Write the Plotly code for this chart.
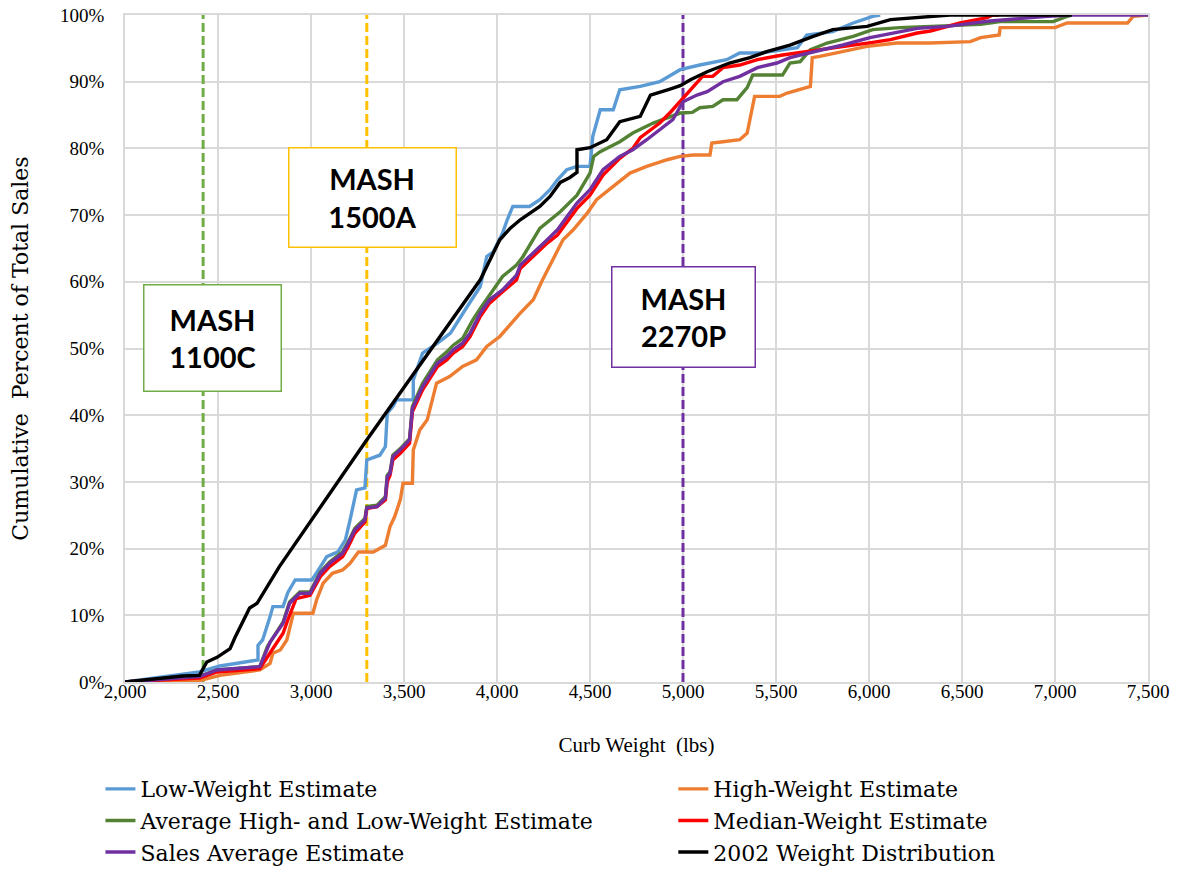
import plotly.graph_objects as go

# Curb weight (lbs) vs cumulative percent of total sales
low_x = [2000, 2400, 2510, 2715, 2715, 2740, 2780, 2795, 2850, 2875, 2915, 3005, 3040, 3085, 3145, 3185,
         3210, 3245, 3290, 3300, 3370, 3400, 3410, 3440, 3460, 3550, 3550, 3600, 3680, 3750, 3840, 3910,
         3945, 3980, 4030, 4055, 4085, 4175, 4230, 4285, 4325, 4375, 4430, 4500, 4515, 4535, 4555, 4625,
         4660, 4770, 4875, 4985, 5090, 5235, 5305, 5415, 5615, 5665, 5805, 5915, 6020, 6060]
low_y = [0, 1.5, 2.4, 3.3, 5.5, 6.3, 9.8, 11.3, 11.3, 13.4, 15.3, 15.3, 16.8, 18.8, 19.5, 21.3,
         24.3, 28.8, 29.1, 33.3, 34.0, 35.3, 40.3, 41.3, 42.3, 42.3, 45.3, 49.3, 50.8, 52.3, 56.3, 59.3,
         63.8, 64.5, 67.3, 69.3, 71.3, 71.3, 72.3, 73.8, 75.3, 76.8, 77.3, 77.3, 81.8, 84.0, 85.8, 85.8,
         88.8, 89.3, 90.0, 91.8, 92.5, 93.3, 94.3, 94.3, 95.1, 97.0, 97.5, 98.8, 99.8, 100]

high_x = [2000, 2400, 2510, 2725, 2780, 2795, 2835, 2870, 2905, 3010, 3030, 3065, 3115, 3170, 3210, 3255,
          3335, 3400, 3425, 3450, 3480, 3495, 3545, 3550, 3585, 3625, 3675, 3745, 3815, 3890, 3945, 4015,
          4125, 4195, 4245, 4300, 4355, 4410, 4485, 4535, 4625, 4715, 4805, 4915, 4985, 5055, 5145, 5155,
          5215, 5305, 5345, 5370, 5385, 5520, 5560, 5685, 5695, 5735, 5845, 5990, 6150, 6330, 6545, 6600,
          6700, 6705, 7000, 7065, 7390, 7420, 7500]
high_y = [0, 0.2, 1.0, 1.8, 2.8, 4.3, 4.8, 6.3, 10.3, 10.3, 12.3, 14.8, 16.3, 16.8, 17.8, 19.5,
          19.5, 20.5, 23.3, 24.8, 27.3, 29.8, 29.8, 34.8, 37.8, 39.3, 44.8, 45.8, 47.3, 48.3, 50.3, 51.8,
          55.3, 57.3, 60.3, 63.3, 66.3, 67.8, 70.3, 72.3, 74.3, 76.3, 77.3, 78.3, 78.8, 79.0, 79.0, 80.8,
          81.0, 81.3, 82.3, 85.8, 87.8, 87.8, 88.3, 89.3, 93.6, 93.8, 94.5, 95.3, 95.8, 95.8, 96.0, 96.6,
          97.0, 98.1, 98.1, 98.8, 98.8, 99.8, 100]

avg_x = [2000, 2400, 2495, 2725, 2765, 2850, 2885, 2940, 2995, 3050, 3100, 3170, 3200, 3235, 3290, 3300,
         3355, 3400, 3410, 3425, 3440, 3480, 3530, 3545, 3600, 3655, 3680, 3730, 3765, 3815, 3870, 3910,
         3960, 4030, 4105, 4140, 4230, 4340, 4430, 4500, 4520, 4555, 4660, 4730, 4840, 4985, 5050, 5090,
         5160, 5215, 5290, 5345, 5375, 5535, 5575, 5630, 5685, 5775, 5915, 6020, 6165, 6600, 6705, 6990,
         7065, 7090]
avg_y = [0, 0.8, 1.8, 2.3, 5.3, 9.0, 12.0, 13.5, 13.5, 16.5, 18.0, 19.5, 21.0, 23.0, 24.5, 26.3,
         26.5, 27.8, 31.0, 31.5, 34.0, 35.0, 36.5, 41.3, 44.8, 47.3, 48.3, 49.5, 50.5, 51.5, 54.3, 56.0,
         58.0, 60.8, 62.5, 63.8, 68.0, 70.5, 73.0, 76.3, 78.8, 79.5, 81.0, 82.3, 83.8, 85.3, 85.4, 86.1,
         86.3, 87.3, 87.3, 89.1, 91.0, 91.0, 92.8, 93.0, 94.8, 95.8, 96.8, 97.8, 98.1, 98.6, 99.0, 99.0,
         99.8, 100]

median_x = [2000, 2400, 2495, 2725, 2790, 2850, 2875, 2920, 2995, 3050, 3100, 3170, 3200, 3235, 3290, 3300,
            3355, 3400, 3410, 3425, 3440, 3480, 3530, 3545, 3600, 3655, 3680, 3730, 3765, 3815, 3855, 3910,
            3960, 4030, 4105, 4125, 4215, 4270, 4325, 4375, 4430, 4500, 4570, 4660, 4730, 4770, 4875, 4935,
            5000, 5040, 5105, 5160, 5215, 5305, 5400, 5535, 5665, 5845, 6020, 6115, 6260, 6330, 6490, 6635,
            6665, 6700]
median_y = [0, 0.6, 1.5, 2.0, 4.8, 7.3, 9.3, 12.5, 13.0, 15.8, 17.3, 18.8, 20.3, 22.3, 24.0, 26.0,
            26.3, 27.3, 30.0, 31.0, 33.3, 34.3, 35.8, 40.5, 43.8, 46.3, 47.3, 48.3, 49.3, 50.3, 51.8, 54.8,
            56.8, 58.5, 60.3, 62.0, 64.3, 65.8, 67.0, 69.0, 71.0, 73.0, 76.0, 78.5, 80.0, 81.6, 83.8, 85.5,
            87.6, 88.8, 90.8, 90.8, 92.1, 92.5, 93.3, 94.0, 94.5, 95.1, 95.9, 96.3, 97.3, 97.6, 98.8, 99.6,
            100, 100]

sales_x = [2000, 2400, 2495, 2725, 2780, 2850, 2885, 2940, 2995, 3050, 3100, 3170, 3200, 3235, 3290, 3300,
           3355, 3400, 3410, 3425, 3440, 3480, 3530, 3545, 3600, 3655, 3680, 3730, 3765, 3815, 3855, 3910,
           3960, 4030, 4105, 4125, 4215, 4270, 4325, 4375, 4430, 4500, 4570, 4660, 4730, 4805, 4875, 4945,
           5000, 5075, 5130, 5215, 5305, 5400, 5505, 5575, 5720, 5860, 6005, 6130, 6260, 6420, 6650, 6960,
           7090, 7500]
sales_y = [0, 0.8, 1.8, 2.3, 6.0, 8.8, 11.8, 13.3, 13.3, 16.3, 17.8, 19.3, 20.8, 22.8, 24.3, 26.1,
           26.3, 27.6, 30.8, 31.3, 33.8, 34.8, 36.3, 41.0, 44.3, 46.8, 47.8, 48.8, 49.8, 50.8, 52.3, 55.3,
           57.3, 58.8, 61.0, 62.5, 64.8, 66.3, 67.8, 69.8, 71.8, 73.8, 76.8, 78.8, 79.8, 81.3, 82.8, 84.3,
           87.0, 88.0, 88.5, 90.0, 90.8, 92.1, 92.8, 93.6, 94.6, 95.5, 96.6, 97.3, 98.0, 98.3, 99.1, 99.8,
           100, 100]

dist2002_x = [2000, 2310, 2400, 2440, 2495, 2565, 2590, 2670, 2710, 2830, 3290, 3910, 4015, 4055, 4070, 4125,
              4230, 4285, 4340, 4390, 4430, 4430, 4500, 4590, 4660, 4770, 4825, 4930, 4985, 5040, 5130, 5250,
              5360, 5450, 5575, 5700, 5805, 5990, 6060, 6115, 6435, 7090]
dist2002_y = [0, 0.9, 1.0, 3.0, 3.7, 5.0, 6.6, 11.1, 11.8, 17.3, 35.9, 60.3, 66.3, 67.6, 68.0, 69.3,
              71.3, 72.8, 74.9, 75.6, 76.4, 79.8, 80.1, 81.3, 84.0, 84.8, 88.0, 88.9, 89.4, 90.3, 91.5, 92.8,
              93.6, 94.5, 95.5, 96.8, 97.8, 98.3, 98.8, 99.3, 100, 100]

# name, x, y, colour, legend column
series = [
    ("Low-Weight Estimate", low_x, low_y, "#5B9BD5", "legend"),
    ("High-Weight Estimate", high_x, high_y, "#ED7D31", "legend2"),
    ("Average High- and Low-Weight Estimate", avg_x, avg_y, "#548235", "legend"),
    ("Median-Weight Estimate", median_x, median_y, "#FF0000", "legend2"),
    ("Sales Average Estimate", sales_x, sales_y, "#7030A0", "legend"),
    ("2002 Weight Distribution", dist2002_x, dist2002_y, "#000000", "legend2"),
]

# MASH test vehicle weights (dashed reference lines)
mash_labels = ["MASH<br>1100C", "MASH<br>1500A", "MASH<br>2270P"]
mash_weights = [2420, 3300, 5000]
mash_colors = ["#70AD47", "#FFC000", "#7030A0"]

fig = go.Figure()

for w, c in zip(mash_weights, mash_colors):
    fig.add_trace(go.Scatter(x=[w, w], y=[0, 100], mode="lines", showlegend=False,
                             line=dict(color=c, width=3, dash="9px,4px"), hoverinfo="skip"))

for name, xs, ys, c, lg in series:
    fig.add_trace(go.Scatter(x=xs, y=ys, mode="lines", name=name, legend=lg,
                             line=dict(color=c, width=3.4)))

# label boxes: (x centre, y centre, width, height)
boxes = [(2468, 51.6, 134, 103), (3333, 72.6, 164, 96), (5000, 54.7, 140, 97)]
for (bx, by, bw, bh), txt, c in zip(boxes, mash_labels, mash_colors):
    fig.add_annotation(x=bx, y=by, xref="x", yref="y", text=txt, showarrow=False,
                       font=dict(family="Lato", size=29, color="black", weight="bold"),
                       bgcolor="white", bordercolor=c, borderwidth=1.5, borderpad=1,
                       width=bw, height=bh, align="center", valign="middle")

leg_common = dict(orientation="v", xanchor="left", yanchor="top", y=-0.129,
                  font=dict(family="DejaVu Serif", size=22), traceorder="normal",
                  bgcolor="rgba(0,0,0,0)")
fig.update_layout(
    width=1184, height=872,
    margin=dict(l=117, r=44, t=7, b=198, autoexpand=False),
    paper_bgcolor="white", plot_bgcolor="white",
    font=dict(family="Liberation Serif", size=19, color="black"),
    legend=dict(x=-0.024, **leg_common),
    legend2=dict(x=0.536, **leg_common),
)
fig.update_xaxes(range=[2000, 7500], dtick=500, tickformat=",", showgrid=True,
                 gridcolor="#D9D9D9", gridwidth=1.5, showline=True, linecolor="#D9D9D9",
                 linewidth=1.5, mirror=True, zeroline=False, ticks="", ticklabelstandoff=-9,
                 ticklabeloverflow="allow",
                 title=dict(text="Curb Weight  (lbs)", font=dict(size=21), standoff=37))
fig.update_yaxes(range=[0, 100], dtick=10, ticksuffix="%", showgrid=True,
                 gridcolor="#D9D9D9", gridwidth=1.5, showline=True, linecolor="#D9D9D9",
                 linewidth=1.5, mirror=True, zeroline=False, ticks="", ticklabelstandoff=15,
                 ticklabeloverflow="allow",
                 title=dict(text="Cumulative  Percent of Total Sales",
                            font=dict(family="DejaVu Serif", size=22), standoff=34))

fig.write_html("out.html")
